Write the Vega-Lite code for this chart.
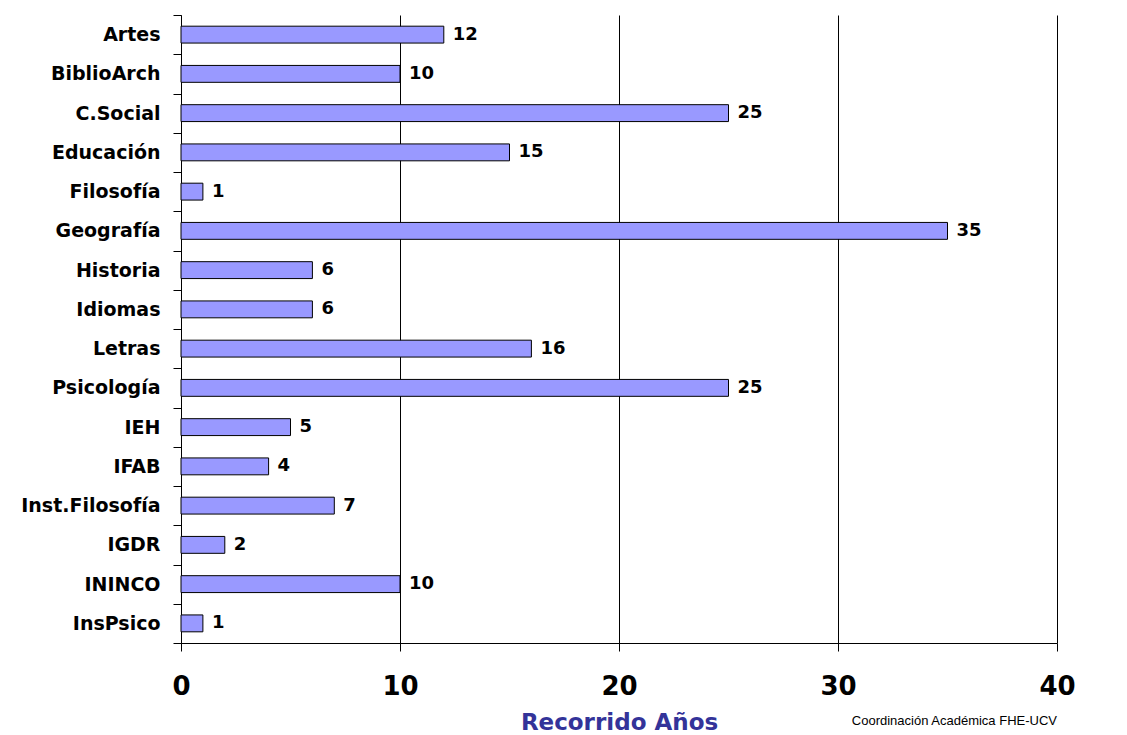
{
  "$schema": "https://vega.github.io/schema/vega-lite/v6.json",
  "width": 876,
  "height": 628,
  "autosize": "none",
  "padding": {"left": 181, "top": 15, "right": 70, "bottom": 92},
  "background": "white",
  "title": {
    "text": "Coordinación Académica FHE-UCV",
    "orient": "bottom",
    "anchor": "end",
    "frame": "group",
    "fontSize": 13,
    "fontWeight": "normal",
    "font": "Liberation Sans",
    "color": "black",
    "offset": -19
  },
  "config": {"view": {"stroke": null}},
  "data": {
    "values": [
      {"unidad": "Artes", "anios": 12},
      {"unidad": "BiblioArch", "anios": 10},
      {"unidad": "C.Social", "anios": 25},
      {"unidad": "Educación", "anios": 15},
      {"unidad": "Filosofía", "anios": 1},
      {"unidad": "Geografía", "anios": 35},
      {"unidad": "Historia", "anios": 6},
      {"unidad": "Idiomas", "anios": 6},
      {"unidad": "Letras", "anios": 16},
      {"unidad": "Psicología", "anios": 25},
      {"unidad": "IEH", "anios": 5},
      {"unidad": "IFAB", "anios": 4},
      {"unidad": "Inst.Filosofía", "anios": 7},
      {"unidad": "IGDR", "anios": 2},
      {"unidad": "ININCO", "anios": 10},
      {"unidad": "InsPsico", "anios": 1}
    ]
  },
  "encoding": {
    "y": {
      "field": "unidad",
      "type": "nominal",
      "sort": null,
      "scale": {"paddingInner": 0, "paddingOuter": 0},
      "axis": {
        "title": null,
        "tickBand": "extent",
        "domainColor": "black",
        "tickColor": "black",
        "tickSize": 8,
        "labelPadding": 13,
        "labelFont": "DejaVu Sans",
        "labelFontWeight": "bold",
        "labelFontSize": 19,
        "labelColor": "black",
        "grid": false
      }
    },
    "x": {
      "field": "anios",
      "type": "quantitative",
      "scale": {"domain": [0, 40], "nice": false},
      "axis": {
        "values": [0, 10, 20, 30, 40],
        "title": "Recorrido Años",
        "titleFont": "DejaVu Sans",
        "titleFontSize": 23,
        "titleFontWeight": "bold",
        "titleColor": "#333399",
        "titlePadding": 12,
        "grid": true,
        "gridColor": "black",
        "gridOpacity": 1,
        "domainColor": "black",
        "tickColor": "black",
        "tickSize": 8,
        "labelPadding": 22,
        "labelFlush": false,
        "labelFont": "DejaVu Sans",
        "labelFontWeight": "bold",
        "labelFontSize": 26,
        "labelColor": "black"
      }
    }
  },
  "layer": [
    {
      "mark": {"type": "bar", "color": "#9999FF", "stroke": "black", "strokeWidth": 1, "height": {"band": 0.43}}
    },
    {
      "mark": {
        "type": "text",
        "align": "left",
        "baseline": "middle",
        "dx": 9,
        "font": "DejaVu Sans",
        "fontWeight": "bold",
        "fontSize": 18,
        "color": "black"
      },
      "encoding": {"text": {"field": "anios", "type": "quantitative"}}
    }
  ]
}
